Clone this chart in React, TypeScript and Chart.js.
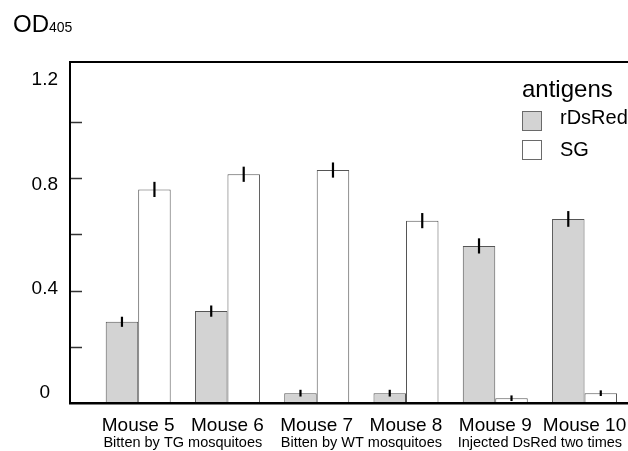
import { useEffect, useRef } from 'react';
import { Chart, registerables } from 'chart.js';

Chart.register(...registerables);

const FONT = '"Liberation Sans", Arial, Helvetica, sans-serif';

const mice = ['Mouse 5', 'Mouse 6', 'Mouse 7', 'Mouse 8', 'Mouse 9', 'Mouse 10'];
const groups = ['Bitten by TG mosquitoes', 'Bitten by WT mosquitoes', 'Injected DsRed two times'];
const seriesNames = ['rDsRed', 'SG'];
const rDsRed = [0.289, 0.327, 0.035, 0.035, 0.559, 0.655];
const rDsRedErr = [0.018, 0.02, 0.012, 0.012, 0.027, 0.028];
const sg = [0.76, 0.814, 0.829, 0.649, 0.017, 0.035];
const sgErr = [0.027, 0.027, 0.027, 0.027, 0.01, 0.01];
const yTickLabels = [0, 0.4, 0.8, 1.2];
const yInnerTicks = [0.2, 0.4, 0.6, 0.8, 1.0];
const titleMain = 'OD';
const titleSub = '405';
const legendTitle = 'antigens';

const fills = ['#d3d3d3', '#ffffff'];
const edges = ['#555555', '#555555'];
const errs = [rDsRedErr, sgErr];

const X_MIN = -0.764;
const X_MAX = 5.487;

const overlayPlugin = {
  id: 'overlay',
  afterDatasetsDraw(chart: any) {
    const ctx = chart.ctx;
    const y = chart.scales.y;
    const area = chart.chartArea;
    ctx.save();
    // error bars
    ctx.strokeStyle = '#000';
    ctx.lineWidth = 2.2;
    chart.data.datasets.forEach((ds: any, di: number) => {
      const meta = chart.getDatasetMeta(di);
      meta.data.forEach((el: any, i: number) => {
        const v = ds.data[i].y;
        const e = errs[di][i];
        ctx.beginPath();
        ctx.moveTo(el.x, y.getPixelForValue(v + e));
        ctx.lineTo(el.x, y.getPixelForValue(v - e));
        ctx.stroke();
      });
    });
    // inner ticks on the y axis
    ctx.strokeStyle = '#333';
    ctx.lineWidth = 1.5;
    yInnerTicks.forEach((t) => {
      const py = Math.round(y.getPixelForValue(t)) + 0.5;
      ctx.beginPath();
      ctx.moveTo(area.left, py);
      ctx.lineTo(area.left + 12, py);
      ctx.stroke();
    });
    ctx.restore();
  },
  afterDraw(chart: any) {
    const ctx = chart.ctx;
    ctx.save();
    ctx.fillStyle = '#000';
    ctx.textBaseline = 'alphabetic';
    ctx.textAlign = 'left';
    // axis title OD405
    ctx.font = `24px ${FONT}`;
    ctx.fillText(titleMain, 13, 32);
    const w = ctx.measureText(titleMain).width;
    ctx.font = `14px ${FONT}`;
    ctx.fillText(titleSub, 13 + w, 32);
    // legend
    ctx.font = `24px ${FONT}`;
    ctx.fillText(legendTitle, 522, 97);
    const boxTops = [111, 140];
    const textBase = [124, 156];
    chart.data.datasets.forEach((ds: any, di: number) => {
      ctx.fillStyle = ds.backgroundColor;
      ctx.fillRect(522, boxTops[di], 20, 20);
      ctx.strokeStyle = '#6a6a6a';
      ctx.lineWidth = 1;
      ctx.strokeRect(522.5, boxTops[di] + 0.5, 19, 19);
      ctx.fillStyle = '#000';
      ctx.font = `20px ${FONT}`;
      ctx.fillText(ds.label, 560, textBase[di]);
    });
    ctx.restore();
  },
};

export default function App() {
  const ref = useRef<HTMLCanvasElement>(null);

  useEffect(() => {
    if (!ref.current) return;
    const noGrid = { display: false, drawTicks: false, offset: false };
    const chart = new Chart(ref.current, {
      type: 'bar',
      data: {
        datasets: [rDsRed, sg].map((vals, di) => ({
          label: seriesNames[di],
          data: vals.map((v, i) => ({ x: i, y: v })),
          backgroundColor: fills[di],
          borderColor: edges[di],
          borderWidth: 1,
          xAxisID: 'x',
          yAxisID: 'y',
          categoryPercentage: 0.728,
          barPercentage: 1,
        })),
      },
      options: {
        animation: false,
        responsive: false,
        events: [],
        layout: { padding: { top: 62, left: 30, right: 0, bottom: 0 } },
        plugins: {
          legend: { display: false },
          title: { display: false },
          tooltip: { enabled: false },
        },
        scales: {
          x: {
            type: 'linear',
            position: 'bottom',
            offset: false,
            weight: 0,
            min: X_MIN,
            max: X_MAX,
            grid: noGrid,
            border: { display: true, color: '#000', width: 2.5, z: 2 },
            afterBuildTicks: (s: any) => {
              s.ticks = mice.map((_, i) => ({ value: i }));
            },
            afterFit: (s: any) => {
              s.height = 31;
              s.paddingLeft = 0;
              s.paddingRight = 0;
            },
            ticks: {
              padding: 11,
              autoSkip: false,
              maxRotation: 0,
              color: '#000',
              font: { family: FONT, size: 19 },
              callback: (v: any) => mice[v] ?? '',
            },
          },
          xGroup: {
            type: 'linear',
            position: 'bottom',
            offset: false,
            weight: 1,
            min: X_MIN,
            max: X_MAX,
            grid: noGrid,
            border: { display: false },
            afterBuildTicks: (s: any) => {
              s.ticks = groups.map((_, g) => ({ value: g * 2 + 0.5 }));
            },
            afterFit: (s: any) => {
              s.height = 17;
              s.paddingLeft = 0;
              s.paddingRight = 0;
            },
            ticks: {
              padding: 0,
              autoSkip: false,
              maxRotation: 0,
              color: '#000',
              font: { family: FONT, size: 14.5 },
              callback: (v: any) => groups[Math.floor(v / 2)] ?? '',
            },
          },
          xTop: {
            type: 'linear',
            position: 'top',
            offset: false,
            min: 0,
            max: 1,
            grid: noGrid,
            ticks: { display: false },
            border: { display: true, color: '#000', width: 2, z: 2 },
            afterFit: (s: any) => {
              s.height = 0;
            },
          },
          y: {
            type: 'linear',
            position: 'left',
            weight: 0,
            min: 0,
            max: 1.2135,
            grid: noGrid,
            ticks: { display: false },
            border: { display: true, color: '#000', width: 2, z: 2 },
            afterFit: (s: any) => {
              s.width = 0;
              s.paddingTop = 0;
              s.paddingBottom = 0;
            },
          },
          yLabel: {
            type: 'linear',
            position: 'left',
            weight: 1,
            min: -0.0383,
            max: 1.269,
            grid: noGrid,
            border: { display: false },
            afterBuildTicks: (s: any) => {
              s.ticks = yTickLabels.map((v) => ({ value: v }));
            },
            afterFit: (s: any) => {
              s.width = 40;
              s.paddingTop = 0;
              s.paddingBottom = 0;
            },
            ticks: {
              padding: 12,
              crossAlign: 'center',
              color: '#000',
              font: { family: FONT, size: 19 },
              callback: (v: any) => String(v),
            },
          },
        },
      } as any,
      plugins: [overlayPlugin],
    });
    return () => chart.destroy();
  }, []);

  return (
    <div style={{ position: 'absolute', left: 0, top: 0, width: 628, height: 451, background: '#fff' }}>
      <canvas ref={ref} width={628} height={451} style={{ display: 'block' }} />
    </div>
  );
}
